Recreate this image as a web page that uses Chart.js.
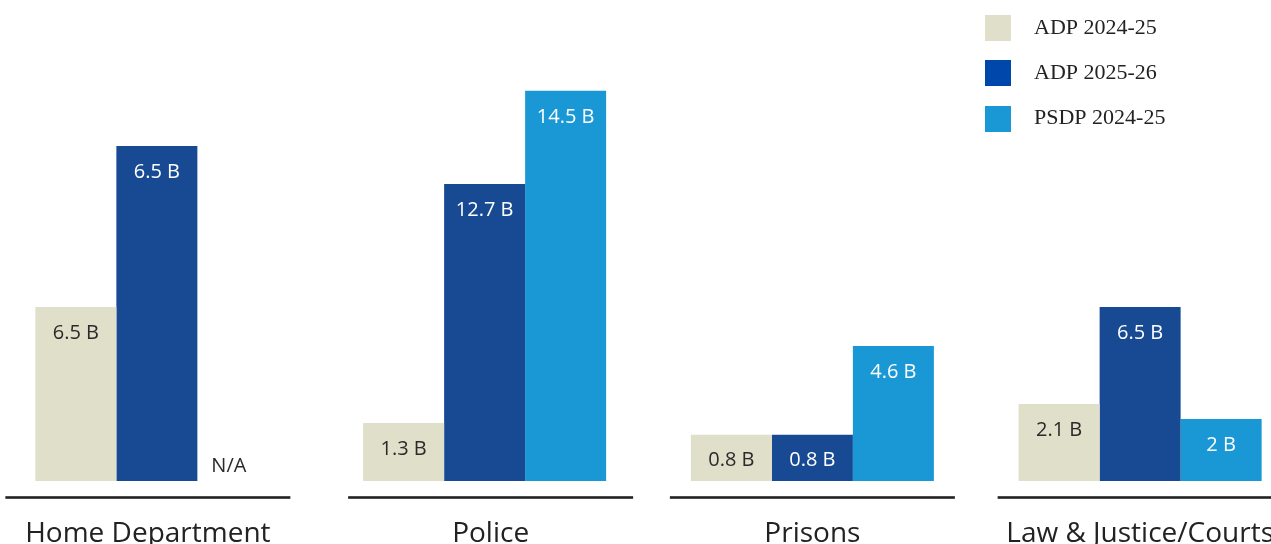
<!DOCTYPE html>
<html>
<head>
<meta charset="utf-8">
<script src="https://cdn.jsdelivr.net/npm/chart.js@4.4.1/dist/chart.umd.min.js"></script>
<style>
  html, body { margin: 0; padding: 0; background: #ffffff; overflow: hidden; width: 1271px; height: 544px; }
  #wrap { position: absolute; left: -7px; top: 0; width: 1311px; height: 544px; }
</style>
</head>
<body>
<div id="wrap"><canvas id="c" width="1311" height="544"></canvas></div>
<script>
// ---- data ----
const categories = ["Home Department", "Police", "Prisons", "Law & Justice/Courts"];
const seriesNames = ["ADP 2024-25", "ADP 2025-26", "PSDP 2024-25"];
// bar heights as drawn in the picture (axis units, axis hidden)
const adp2425 = [6.51, 2.17, 1.73, 2.88];
const adp2526 = [12.54, 11.11, 1.73, 6.51];
const psdp2425 = [null, 14.6, 5.05, 2.32];
// value labels printed on the bars
const adp2425Labels = ["6.5 B", "1.3 B", "0.8 B", "2.1 B"];
const adp2526Labels = ["6.5 B", "12.7 B", "0.8 B", "6.5 B"];
const psdp2425Labels = ["N/A", "14.5 B", "4.6 B", "2 B"];

// ---- styles ----
const barColors = ["#e0dfca", "#184a93", "#1a98d5"];
const legendColors = ["#e0dfca", "#0047ab", "#1a98d5"];
const labelColors = ["#2a2a2a", "#ffffff", "#ffffff"];
const catLineOffsets = [-9, 6, 0, 0];

const valueLabels = [adp2425Labels, adp2526Labels, psdp2425Labels];

const overlay = {
  id: 'overlay',
  afterDatasetsDraw(chart) {
    const ctx = chart.ctx;
    const xs = chart.scales.x, ys = chart.scales.y;
    const base = ys.getPixelForValue(0);
    ctx.save();
    // value labels
    ctx.font = '20px "Open Sans"';
    ctx.textAlign = 'center';
    ctx.textBaseline = 'middle';
    chart.data.datasets.forEach((ds, di) => {
      const meta = chart.getDatasetMeta(di);
      ds.data.forEach((v, i) => {
        const el = meta.data[i];
        const txt = valueLabels[di][i];
        if (v === null || v === undefined) {
          const cx = xs.getPixelForValue(i) + (di - 1) * 81 - 9;
          ctx.fillStyle = '#2a2a2a';
          ctx.fillText(txt, cx, base - 15);
        } else {
          ctx.fillStyle = labelColors[di];
          ctx.fillText(txt, el.x, el.y + 26);
        }
      });
    });
    // category lines and labels
    ctx.font = '28px "Open Sans"';
    ctx.textBaseline = 'alphabetic';
    categories.forEach((c, i) => {
      const cx = xs.getPixelForValue(i) + catLineOffsets[i];
      ctx.fillStyle = '#222222';
      ctx.fillRect(cx - 142.5, 496.2, 285, 2.6);
      ctx.fillText(c, cx, 542);
    });
    // legend
    const lx = 992, baselines = [33.5, 79, 124], boxTops = [15, 60, 106];
    ctx.font = '22px "Liberation Serif"';
    ctx.textAlign = 'left';
    seriesNames.forEach((n, i) => {
      ctx.fillStyle = legendColors[i];
      ctx.fillRect(lx, boxTops[i], 26, 26);
      ctx.fillStyle = '#222222';
      ctx.fillText(n, lx + 49, baselines[i]);
    });
    ctx.restore();
  }
};

new Chart(document.getElementById('c'), {
  type: 'bar',
  data: {
    labels: categories,
    datasets: [
      { label: seriesNames[0], data: adp2425, backgroundColor: barColors[0] },
      { label: seriesNames[1], data: adp2526, backgroundColor: barColors[1] },
      { label: seriesNames[2], data: psdp2425, backgroundColor: barColors[2] }
    ]
  },
  options: {
    responsive: false,
    animation: false,
    layout: { padding: { top: 0, bottom: 63, left: 0, right: 0 } },
    datasets: { bar: { barPercentage: 1, categoryPercentage: 0.7415, borderWidth: 0 } },
    scales: {
      x: { display: false },
      y: { display: false, min: 0, max: 18 }
    },
    plugins: { legend: { display: false }, tooltip: { enabled: false } }
  },
  plugins: [overlay]
});
</script>
</body>
</html>
